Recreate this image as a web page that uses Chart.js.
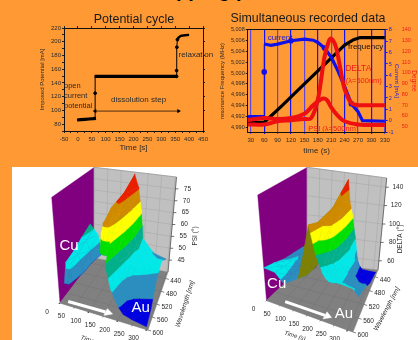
<!DOCTYPE html>
<html>
<head>
<meta charset="utf-8">
<title>Stripping process</title>
<script src="https://cdn.jsdelivr.net/npm/chart.js@4"></script>
<style>
  html, body { margin: 0; padding: 0; width: 418px; height: 340px; overflow: hidden; background: #ff9933; }
  #sheet { position: absolute; left: 12px; top: 167px; width: 406px; height: 173px; background: #fff; }
  h1 { position: absolute; left: 142.6px; top: -21px; margin: 0; font: bold 20px/23px "Liberation Sans"; color: #000; white-space: nowrap; }
  canvas { position: absolute; filter: blur(0.3px); }
</style>
</head>
<body>
<h1>Stripping process</h1>
<div id="sheet"></div>
<canvas id="cycle" width="200" height="165" style="left:34px;top:0"></canvas>
<canvas id="recorded" width="220" height="165" style="left:198px;top:0"></canvas>
<canvas id="psi3d" width="205" height="173" style="left:0;top:167px"></canvas>
<canvas id="delta3d" width="213" height="173" style="left:205px;top:167px"></canvas>
<script>
// potential cycle
const openTime = [-3, 10, 25, 40, 55, 65];
const openPot = [86, 86.5, 87, 87.5, 88, 88.5];
const stepTime = [62, 62, 62];
const stepPot = [89, 125, 150];
const holdTime = [60, 120, 200, 280, 355];
const holdPot = [149.5, 149.5, 149.5, 149.5, 149.5];
const riseTime = [355, 355, 356, 358];
const risePot = [149.5, 158, 192, 203];
const relaxTime = [358, 362, 370, 385, 400];
const relaxPot = [203, 206, 208.5, 209.5, 210];

// simultaneous recording
const freqTime = [23, 60, 100, 150, 200, 240, 260, 275, 300, 330];
const freqVal = [4.9909, 4.9909, 4.994, 4.998, 5.002, 5.0052, 5.0062, 5.0066, 5.0066, 5.0066];
const currTime = [23, 60, 60, 60, 75, 90, 120, 150, 170, 180, 195, 210, 225, 240, 255, 270, 280, 330];
const currVal = [0.35, 0.35, 4.3, 6.76, 6.65, 6.75, 7.05, 7.2, 7.1, 6.9, 6.4, 5.6, 4.4, 3, 1.5, 0.8, 0, -0.05];
const deltaTime = [23, 60, 90, 120, 150, 165, 180, 195, 205, 210, 220, 230, 240, 255, 270, 300, 330];
const deltaVal = [52, 52, 55, 56, 57, 58, 75, 115, 130, 132, 125, 105, 85, 72, 70, 70, 70];
const psiTime = [23, 60, 90, 120, 150, 170, 190, 200, 210, 225, 240, 270, 330];
const psiVal = [56, 58, 57, 58, 62, 70, 76, 75, 68, 60, 55, 52, 51.5];
const timeTicks = [30, 60, 90, 120, 150, 180, 210, 240, 270, 300, 330];
const freqTicks = [4.990, 4.992, 4.994, 4.996, 4.998, 5.000, 5.002, 5.004, 5.006, 5.008];
const currTicks = [-1, 0, 1, 2, 3, 4, 5, 6, 7, 8];
const degTicks = [50, 60, 70, 80, 90, 100, 110, 120, 130, 140];

// 3d surfaces, one row per time, columns follow the wavelengths
// the lowest value in a table means no surface there
const wavelengths = [440, 480, 520, 560, 600];
const psiTimes = [0, 15, 30, 45, 60, 100, 128, 130, 140, 155, 165, 180, 195, 205, 220, 250, 300];
const psiRows = [
  [57, 55, 53, 52, 30], [55, 54, 52, 51.5, 30], [53, 50, 47.5, 30, 30], [47, 30, 30, 30, 30],
  [30, 30, 30, 30, 30], [30, 30, 30, 30, 30], [30, 30, 30, 30, 30], [66, 68, 68, 67, 30],
  [72, 73, 74, 71.5, 30], [77, 76.5, 74.5, 70, 30], [81, 76.5, 73, 67, 59], [76, 71, 66, 57, 51],
  [66, 63, 56, 49.5, 47], [55, 56, 52, 47.5, 45], [53, 54, 51, 45.7, 43], [49.5, 52, 50, 44.5, 42],
  [48, 52, 48.3, 43, 41]
];
const psiLevels = [40, 45, 50, 55, 60, 65, 70, 75, 95];
const psiTicks = [45, 50, 55, 60, 65, 70, 75];

const deltaTimes = [0, 40, 70, 90, 105, 120, 137, 160, 185, 195, 207, 215, 225, 235, 245, 260, 300, 320];
const deltaRows = [
  [70, 72, 74, 78, 81], [74.5, 74, 76, 78, 80], [72, 72, 71, 72, 72], [64, 62, 64, 70, 40],
  [66, 70, 72, 85, 40], [88, 95, 100, 103, 40], [105, 112, 119, 125, 40], [122, 126, 120, 98, 40],
  [148, 134, 116, 82, 40], [125, 122, 108, 78, 40], [112, 108, 98, 76, 40], [100, 100, 90, 76, 40],
  [87.5, 92, 84, 76, 40], [70, 85, 80, 77, 40], [60, 80, 78, 77, 40], [56, 62, 70, 77, 40],
  [55, 57, 68, 76, 40], [55, 58, 66, 70, 40]
];
const deltaLevels = [50, 62.5, 75, 87.5, 98, 108, 118, 137.5, 170];
const deltaTicks = [60, 80, 100, 120, 140];

const timeAxisTicks = [0, 50, 100, 150, 200, 250, 300];
const waveTicks = [440, 480, 520, 560, 600];

Chart.defaults.font.family = '"Liberation Sans"';
Chart.defaults.animation = false;
Chart.defaults.events = [];

const bandColors = ["#0000e0", "#2a8fc0", "#00e8e8", "#00b08a", "#00e000", "#ffff00", "#d08a00", "#e82000"];

// plain text drawn through the scales, listed per chart in options.plugins.notes
const notes = {
  id: "notes",
  afterDatasetsDraw(chart, args, opts) {
    const ctx = chart.ctx;
    opts.items.forEach(n => {
      const x = chart.scales[n.xs || "x"].getPixelForValue(n.x);
      const y = chart.scales[n.ys || "y"].getPixelForValue(n.y);
      ctx.save();
      ctx.translate(x, y);
      ctx.rotate((n.rot || 0) * Math.PI / 180);
      ctx.font = (n.style ? n.style + " " : "") + n.size + 'px "Liberation Sans"';
      ctx.fillStyle = n.color || "#2a2a2a";
      ctx.textAlign = n.align || "center";
      ctx.textBaseline = "middle";
      ctx.fillText(n.text, 0, 0);
      ctx.restore();
    });
  }
};
Chart.register(notes);

function xy(xs, ys) { return xs.map((v, i) => ({ x: v, y: ys[i] })); }
function fixedTicks(list) { return s => { s.ticks = list.map(v => ({ value: v })); }; }

// ---- potential cycle
new Chart("cycle", {
  type: "scatter",
  data: { datasets: [
    { data: xy(openTime, openPot), showLine: true, borderColor: "#000", borderWidth: 3.2, pointRadius: 0 },
    { data: xy(stepTime, stepPot), showLine: true, borderColor: "#000", borderWidth: 1, pointRadius: [0, 1.4, 0], backgroundColor: "#000" },
    { data: xy(holdTime, holdPot), showLine: true, borderColor: "#000", borderWidth: 3.4, pointRadius: 0 },
    { data: xy(riseTime, risePot), showLine: true, borderColor: "#000", borderWidth: 1, pointRadius: 1.4, backgroundColor: "#000" },
    { data: xy(relaxTime, relaxPot), showLine: true, borderColor: "#000", borderWidth: 2.4, pointRadius: 0 },
    { data: xy([62, 362], [99, 99]), showLine: true, borderColor: "#000", borderWidth: 0.7, pointStyle: "triangle",
      pointRadius: 1.8, rotation: [-90, 90], backgroundColor: "#000" }
  ] },
  options: {
    responsive: false,
    plugins: {
      legend: { display: false }, tooltip: { enabled: false },
      title: { display: true, text: "Potential cycle", color: "#1a1a1a", font: { size: 12.5, weight: "normal" }, padding: { top: 12.5, bottom: 0.5 } },
      notes: { items: [
        { text: "open", x: -50, y: 135, align: "left", size: 7.5 },
        { text: "current", x: -50, y: 120.5, align: "left", size: 7.5 },
        { text: "potential", x: -50, y: 106.5, align: "left", size: 7.5 },
        { text: "dissolution step", x: 218, y: 115, size: 8 },
        { text: "relaxation", x: 362, y: 181, align: "left", size: 8 }
      ] }
    },
    scales: {
      x: { type: "linear", min: -50, max: 450, afterFit: s => { s.height = 34; },
        title: { display: true, text: "Time [s]", color: "#2a2a2a", font: { size: 8 }, padding: { top: 0, bottom: 12 } },
        ticks: { stepSize: 25, autoSkip: false, maxRotation: 0, font: { size: 6 }, color: "#2a2a2a", padding: 2.5, callback: v => v % 50 === 0 ? v : "" },
        grid: { drawOnChartArea: false, tickLength: 2, color: "#222" }, border: { color: "#111", width: 1 } },
      y: { min: 70, max: 220, afterFit: s => { s.width = 30; },
        title: { display: true, text: "Imposed Potential [mA]", color: "#2a2a2a", font: { size: 6 }, padding: { top: 5, bottom: 0 } },
        ticks: { stepSize: 10, autoSkip: false, font: { size: 6 }, color: "#2a2a2a", padding: 1, callback: v => v % 20 === 0 ? v : "" },
        grid: { drawOnChartArea: false, tickLength: 2, color: "#222" }, border: { color: "#111", width: 1 } },
      xTop: { type: "linear", position: "top", min: -50, max: 450, afterFit: s => { s.height = 0; },
        ticks: { stepSize: 50, display: false }, grid: { drawOnChartArea: false, tickLength: 2, color: "#222" }, border: { color: "#111", width: 1 } },
      yRight: { position: "right", min: 70, max: 220, afterFit: s => { s.width = 31; },
        ticks: { stepSize: 20, display: false }, grid: { drawOnChartArea: false, tickLength: 2, color: "#222" }, border: { color: "#111", width: 1 } }
    }
  }
});

// ---- simultaneous recording, first dataset ends up on top
new Chart("recorded", {
  type: "scatter",
  data: { datasets: [
    { data: xy(deltaTime, deltaVal), yAxisID: "yDeg", showLine: true, tension: 0.35, borderColor: "#ee1010", borderWidth: 4, pointRadius: 0 },
    { data: xy(psiTime, psiVal), yAxisID: "yDeg", showLine: true, tension: 0.35, borderColor: "#ee1010", borderWidth: 4, pointRadius: 0 },
    { data: xy(currTime, currVal), yAxisID: "yCurr", showLine: true, borderColor: "#1010e8", borderWidth: 3.2, pointRadius: [0, 0, 1.2, 0], backgroundColor: "#1010e8",
      segment: { borderWidth: c => c.p0.parsed.x === c.p1.parsed.x ? 1 : 3.2 } },
    { data: xy(freqTime, freqVal), yAxisID: "y", showLine: true, borderColor: "#000", borderWidth: 3.2, pointRadius: 0 }
  ] },
  options: {
    responsive: false,
    plugins: {
      legend: { display: false }, tooltip: { enabled: false },
      title: { display: true, text: "Simultaneous recorded data", color: "#1a1a1a", font: { size: 12.4, weight: "normal" }, padding: { top: 11.3, bottom: 3.8 } },
      notes: { items: [
        { text: "current", x: 95.5, y: 7.35, ys: "yCurr", color: "#2020d8", size: 8 },
        { text: "frequency", x: 287, y: 5.0048, color: "#111", size: 8 },
        { text: "DELTA", x: 270.5, y: 103.8, ys: "yDeg", color: "#ee1c1c", size: 8.5 },
        { text: "(\u03bb=500nm)", x: 283, y: 93, ys: "yDeg", color: "#ee1c1c", size: 7.5 },
        { text: "PSI (\u03bb=500nm)", x: 214.7, y: 47.7, ys: "yDeg", color: "#ee1c1c", size: 7.5 }
      ] }
    },
    scales: {
      x: { type: "linear", min: 23, max: 332, afterBuildTicks: fixedTicks(timeTicks), afterFit: s => { s.height = 33; },
        title: { display: true, text: "time (s)", color: "#2a2a2a", font: { size: 8 }, padding: { top: 0, bottom: 9 } },
        ticks: { autoSkip: false, maxRotation: 0, font: { size: 6 }, color: "#2a2a2a", padding: 2.5 },
        grid: { color: c => c.index % 2 === 0 ? "#6248d8" : "#1414ee", lineWidth: 1.2, tickLength: 2 }, border: { color: "#111", width: 1 } },
      y: { min: 4.9891, max: 5.008, afterBuildTicks: fixedTicks(freqTicks), afterFit: s => { s.width = 49.7; },
        title: { display: true, text: "resonance Frequency (MHz)", color: "#2a2a2a", font: { size: 6 }, padding: { top: 21, bottom: 0 } },
        ticks: { autoSkip: false, font: { size: 5.5 }, color: "#2a2a2a", padding: 1, callback: v => v.toFixed(3).replace(".", ",") },
        grid: { drawOnChartArea: false, tickLength: 2, color: "#222" }, border: { color: "#111", width: 1 } },
      xTop: { type: "linear", position: "top", min: 23, max: 332, afterFit: s => { s.height = 0; },
        ticks: { display: false }, grid: { drawOnChartArea: false, tickLength: 0 }, border: { color: "#111", width: 1 } },
      yCurr: { position: "right", weight: 1, min: -1, max: 8, afterBuildTicks: fixedTicks(currTicks), afterFit: s => { s.width = 15; },
        title: { display: true, text: "Current [mA]", color: "#2020d8", font: { size: 6 }, padding: { top: 0, bottom: 0 } },
        ticks: { autoSkip: false, font: { size: 5.5 }, color: "#2020d8", padding: 1 },
        grid: { drawOnChartArea: false, tickLength: 2, color: "#1c1ce0" }, border: { color: "#1c1ce0", width: 1 } },
      yDeg: { position: "right", weight: 2, min: 45, max: 140, afterBuildTicks: fixedTicks(degTicks), afterFit: s => { s.width = 17.3; },
        title: { display: true, text: "Degree", color: "#ee1c1c", font: { size: 6.5 }, padding: { top: 0, bottom: 0 } },
        ticks: { autoSkip: false, font: { size: 5.5 }, color: "#ee1c1c", padding: 1 },
        grid: { display: false, drawTicks: false, tickLength: 0 }, border: { display: false } }
    }
  }
});

// ---- 3d panels, drawn as filled polygons on a hidden page-sized pair of scales
function project(v, t, w, z) {
  const u = (t - v.t0) / (v.t1 - v.t0), s = (v.w0 - w) / (v.w0 - v.w1), h = (z - v.z0) / (v.z1 - v.z0);
  const mix = (c) => (c[0][0] * (1 - u) + c[3][0] * u) * (1 - s) + (c[1][0] * (1 - u) + c[2][0] * u) * s;
  const miy = (c) => (c[0][1] * (1 - u) + c[3][1] * u) * (1 - s) + (c[1][1] * (1 - u) + c[2][1] * u) * s;
  return { x: mix(v.floor) * (1 - h) + mix(v.top) * h, y: miy(v.floor) * (1 - h) + miy(v.top) * h };
}

function shape(pts, color, line) {
  return { data: pts.concat([pts[0]]), showLine: true, fill: "shape", backgroundColor: color,
    borderColor: line || color, borderWidth: 0.4, pointRadius: 0, tension: 0 };
}
function stroke(pts, color, width, dash) {
  return { data: pts, showLine: true, fill: false, borderColor: color, borderWidth: width, borderDash: dash || [], pointRadius: 0, tension: 0 };
}

function clip(poly, level, keepAbove) {
  const out = [];
  poly.forEach((a, i) => {
    const b = poly[(i + 1) % poly.length];
    const ina = keepAbove ? a.z >= level : a.z <= level;
    const inb = keepAbove ? b.z >= level : b.z <= level;
    if (ina) out.push(a);
    if (ina !== inb) {
      const f = (level - a.z) / (b.z - a.z);
      out.push({ t: a.t + (b.t - a.t) * f, w: a.w + (b.w - a.w) * f, z: level });
    }
  });
  return out;
}

function surfaceSets(v, times, rows, levels) {
  const sets = [];
  function tri(a, b, c) {
    const pa = project(v, a.t, a.w, a.z), pb = project(v, b.t, b.w, b.z), pc = project(v, c.t, c.w, c.z);
    const area = (pb.x - pa.x) * (pc.y - pa.y) - (pc.x - pa.x) * (pb.y - pa.y);
    const cut = Math.min(a.z, b.z, c.z) <= v.gap ? v.cut(a.t) : -Infinity;
    for (let k = 0; k < levels.length - 1; k++) {
      let p = clip([a, b, c], Math.max(levels[k], cut), true);
      if (p.length) p = clip(p, levels[k + 1], false);
      if (p.length < 3) continue;
      const col = (v.under && area < 0) ? v.under : bandColors[k];
      sets.push(shape(p.map(q => project(v, q.t, q.w, q.z)), col));
    }
  }
  for (let j = 0; j < wavelengths.length - 1; j++) {
    for (let i = 0; i < times.length - 1; i++) {
      const c = (ti, wj) => ({ t: times[ti], w: wavelengths[wj], z: rows[ti][wj] });
      tri(c(i, j), c(i + 1, j), c(i, j + 1));
      tri(c(i + 1, j), c(i + 1, j + 1), c(i, j + 1));
    }
  }
  return sets;
}

function panel3d(id, v, times, rows, levels, zTicks, texts) {
  const sets = [];
  const p = (t, w, z) => project(v, t, w, z);
  sets.push(shape([p(v.t0, v.w0, v.z0), p(v.t0, v.w1, v.z0), p(v.t0, v.w1, v.z1), p(v.t0, v.w0, v.z1)], "#800080"));
  sets.push(shape([p(v.t0, v.w1, v.z0), p(v.t1, v.w1, v.z0), p(v.t1, v.w1, v.z1), p(v.t0, v.w1, v.z1)], "#c0c0c0"));
  sets.push(shape([p(v.t0, v.w0, v.z0), p(v.t0, v.w1, v.z0), p(v.t1, v.w1, v.z0), p(v.t1, v.w0, v.z0)], "#808080"));
  timeAxisTicks.forEach(t => {
    sets.push(stroke([p(t, v.w1, v.z0), p(t, v.w1, v.z1)], "#a4a4a4", 0.5));
    sets.push(stroke([p(t, v.w0, v.z0), p(t, v.w1, v.z0)], "#727272", 0.5));
    sets.push(stroke([p(t, v.w0, v.z0), p(t, v.w0 + 4, v.z0)], "#333", 0.6));
  });
  zTicks.forEach(z => {
    sets.push(stroke([p(v.t0, v.w1, z), p(v.t1, v.w1, z)], "#a4a4a4", 0.5));
    const a = p(v.t1, v.w1, z);
    sets.push(stroke([a, { x: a.x + 3, y: a.y }], "#333", 0.7));
  });
  waveTicks.forEach(w => {
    sets.push(stroke([p(v.t0, w, v.z0), p(v.t1, w, v.z0)], "#727272", 0.5));
    const a = p(v.t1, w, v.z0);
    sets.push(stroke([a, { x: a.x + 3, y: a.y + 1 }], "#333", 0.6));
  });
  sets.push(stroke([p(v.t1, v.w1, v.z0), p(v.t1, v.w1, v.z1)], "#444", 0.7));
  sets.push(stroke([p(v.t0, v.w1, v.z1), p(v.t1, v.w1, v.z1)], "#888", 0.6));
  surfaceSets(v, times, rows, levels).forEach(s => sets.push(s));
  // white arrow on the floor
  const ar = v.arrow;
  sets.push(stroke([p(ar[0], ar[1], v.z0), p(ar[2], ar[3], v.z0)], "#fff", 3));
  sets.push(shape([p(ar[2], ar[3] - 12, v.z0), p(ar[2] + 25, ar[3], v.z0), p(ar[2], ar[3] + 12, v.z0)], "#fff"));

  const items = texts.slice();
  timeAxisTicks.forEach(t => { const a = p(t, v.w0, v.z0); items.push({ text: String(t), x: a.x - 13, y: a.y + 9, size: 6.5 }); });
  waveTicks.forEach(w => { const a = p(v.t1, w, v.z0); items.push({ text: String(w), x: a.x + 10, y: a.y + 3, size: 6.5 }); });
  zTicks.forEach(z => { const a = p(v.t1, v.w1, z); items.push({ text: String(z), x: a.x + 12, y: a.y, size: 6.5 }); });

  // chart.js paints the first dataset last, so back to front means reversing
  sets.reverse();
  new Chart(id, {
    type: "scatter",
    data: { datasets: sets },
    options: {
      responsive: false,
      layout: { padding: 0 },
      plugins: { legend: { display: false }, tooltip: { enabled: false }, title: { display: false }, notes: { items } },
      scales: {
        x: { type: "linear", display: false, min: v.left, max: v.right },
        y: { type: "linear", display: false, min: 167, max: 340, reverse: true }
      }
    }
  });
}

panel3d("psi3d", {
  left: 0, right: 205, t0: 0, t1: 305, w0: 600, w1: 420, z0: 40, z1: 80,
  floor: [[60, 303], [94.3, 258], [168, 272], [148, 330]],
  top: [[51.7, 197.3], [94.3, 167.3], [176.5, 177], [146, 222]],
  arrow: [20, 587, 150, 585], under: null, gap: 30, cut: t => t < 100 ? 45 : 60
}, psiTimes, psiRows, psiLevels, psiTicks, [
  { text: "Cu", x: 69, y: 246, size: 15, color: "#fff" },
  { text: "Au", x: 140.7, y: 307.7, size: 15, color: "#fff" },
  { text: "PSI (\u00b0)", x: 195, y: 236, size: 6.5, rot: -90 },
  { text: "Wavelength [nm]", x: 185, y: 304, size: 6.5, rot: -72, style: "italic" },
  { text: "Time (s)", x: 92, y: 341, size: 6.5, rot: 17, style: "italic" }
]);

panel3d("delta3d", {
  left: 205, right: 418, t0: 0, t1: 320, w0: 600, w1: 420, z0: 50, z1: 150,
  floor: [[266.5, 300.5], [307.3, 262], [378, 270], [353, 332]],
  top: [[257.7, 195], [307.3, 167.3], [386.7, 178], [351, 222]],
  arrow: [55, 582, 205, 582], under: "#808000", gap: 40, cut: () => 999
}, deltaTimes, deltaRows, deltaLevels, deltaTicks, [
  { text: "Cu", x: 276.7, y: 284, size: 15, color: "#fff" },
  { text: "Au", x: 344, y: 314, size: 15, color: "#fff" },
  { text: "DELTA (\u00b0)", x: 400.7, y: 239, size: 6.5, rot: -90 },
  { text: "Wavelength [nm]", x: 386.7, y: 309, size: 6.5, rot: -62, style: "italic" },
  { text: "Time (s)", x: 295, y: 336, size: 6, rot: 17, style: "italic" }
]);
</script>
</body>
</html>
